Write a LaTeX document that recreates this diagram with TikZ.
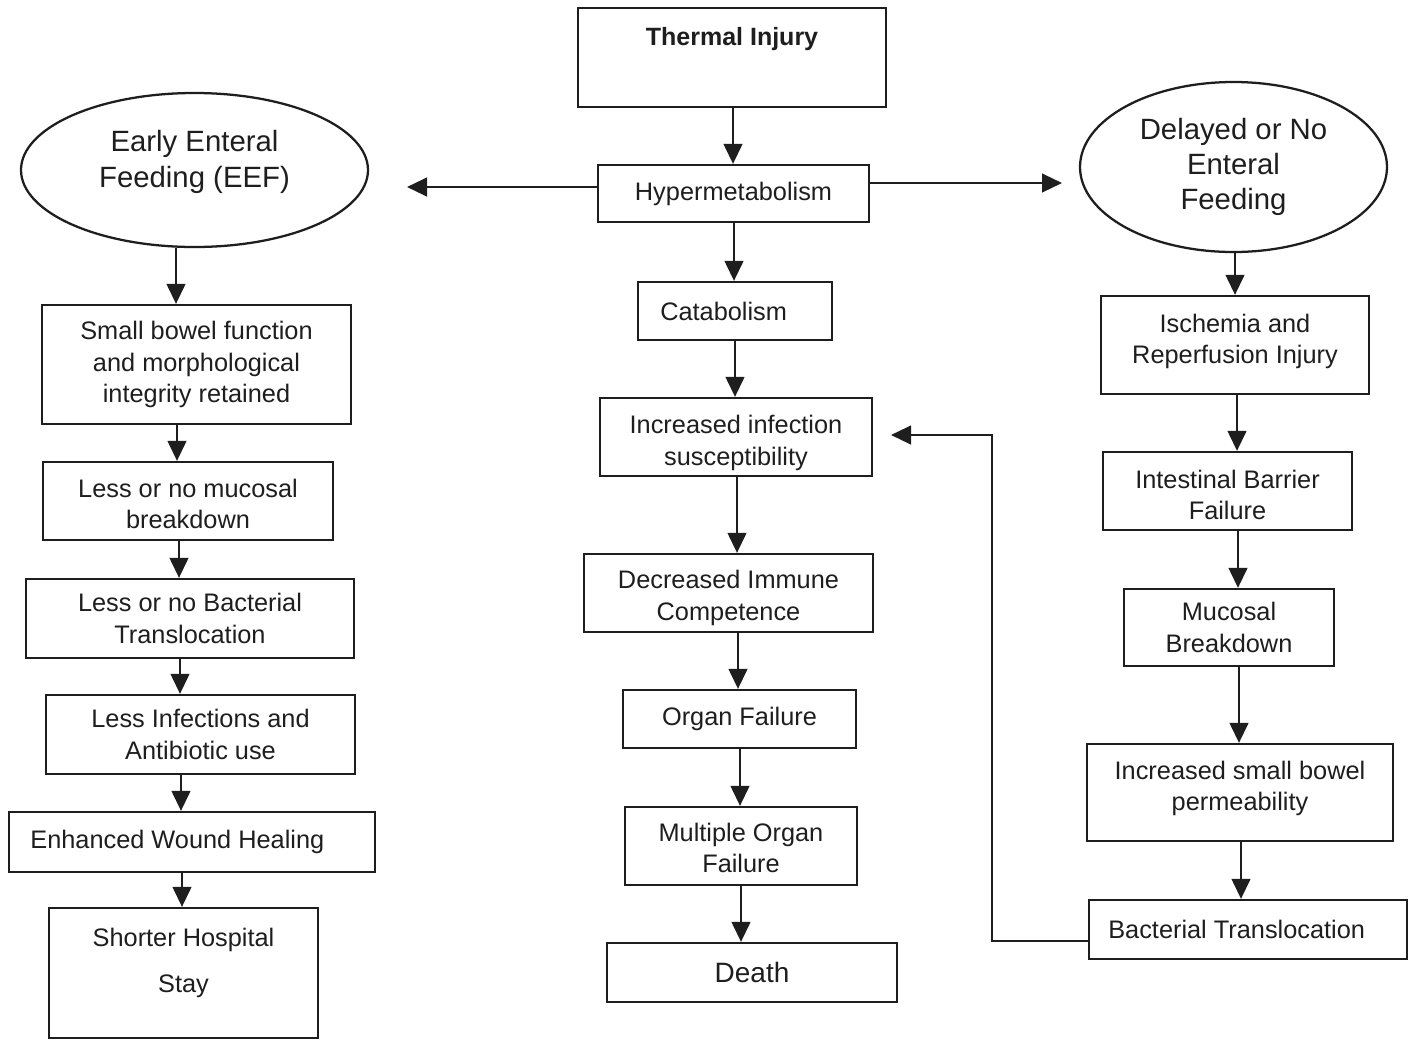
\documentclass[tikz,border=0pt]{standalone}
\usepackage{fontspec}
\setmainfont{Liberation Sans}
\usetikzlibrary{arrows.meta,shapes.geometric}
\definecolor{ink}{HTML}{1E1E1E}
\newcommand\vlink[3]{\coordinate (vx) at (#3,0); \draw[arr] (#1.south -| vx) -- (#2.north -| vx);}
\begin{document}
\begin{tikzpicture}[x=0.75pt,y=-0.75pt,
  fcbox/.style 2 args={draw=ink, text=ink, line width=1.7pt, rectangle, minimum width=#1*0.75pt, minimum height=#2*0.75pt, inner sep=2pt, align=center, font=\fontsize{19}{23.5}\selectfont},
  fcoval/.style 2 args={draw=ink, text=ink, line width=1.7pt, ellipse, minimum width=#1*0.75pt, minimum height=#2*0.75pt, inner sep=0pt, align=center, font=\fontsize{22}{27}\selectfont},
  arr/.style={draw=ink, line width=1.7pt, -{Triangle[length=15pt,width=14pt]}},
]
\fill[white] (0,0) rectangle (1409,1040);
\useasboundingbox (0,0) rectangle (1409,1040);

% centre column
\node[fcbox={308}{99}, font=\bfseries\fontsize{18.75}{23.5}\selectfont, text depth=32pt] (ti) at (732,57.5) {Thermal Injury};
\node[fcbox={271}{57}] (hyp) at (733.5,193.5) {Hypermetabolism};
\node[fcbox={194}{58}] (cat) at (735,311) {Catabolism\kern17pt};
\node[fcbox={272}{78}, text height=46pt] (iis) at (736,437) {Increased infection\\susceptibility};
\node[fcbox={289}{78}, text height=44.5pt] (dic) at (728.5,593) {Decreased Immune\\Competence};
\node[fcbox={233}{58}] (of) at (739.5,719) {Organ Failure};
\node[fcbox={232}{78}, text height=40pt] (mof) at (741,846) {Multiple Organ\\Failure};
\node[fcbox={290}{59}, font=\fontsize{21}{25}\selectfont] (death) at (752,972.5) {Death};

% left column
\node[fcoval={347}{154}, text depth=17pt] (eef) at (194.5,170) {Early Enteral\\Feeding (EEF)};
\node[fcbox={309}{119}] (sb) at (196.5,364.5) {Small bowel function\\and morphological\\integrity retained};
\node[fcbox={290}{78}, text height=41.5pt] (lnm) at (188,501) {Less or no mucosal\\breakdown};
\node[fcbox={328}{79}] (lnb) at (190,618.5) {Less or no Bacterial\\Translocation};
\node[fcbox={309}{79}] (lia) at (200.5,734.5) {Less Infections and\\Antibiotic use};
\node[fcbox={366}{60}] (ewh) at (192,842) {Enhanced Wound Healing\kern22pt};
\node[fcbox={269}{130}, text depth=19.5pt] (shs) at (183.5,973) {Shorter Hospital\\[11pt]Stay};

% right column
\node[fcoval={307}{170}, font=\fontsize{22}{26.25}\selectfont] (dnef) at (1233.5,167) {Delayed or No\\Enteral\\Feeding};
\node[fcbox={268}{98}, text depth=9.75pt] (isch) at (1235,345) {Ischemia and\\Reperfusion Injury};
\node[fcbox={249}{78}, text height=43pt] (ibf) at (1227.5,491) {Intestinal Barrier\\Failure};
\node[fcbox={210}{77}] (mb) at (1229,627.5) {Mucosal\\Breakdown};
\node[fcbox={306}{97}, text depth=9.75pt] (isbp) at (1240,792.5) {Increased small bowel\\permeability};
\node[fcbox={318}{59}] (bt) at (1248,929.5) {Bacterial Translocation\kern17pt};

% centre links
\vlink{ti}{hyp}{733}
\vlink{hyp}{cat}{734}
\vlink{cat}{iis}{735}
\vlink{iis}{dic}{737}
\vlink{dic}{of}{738}
\vlink{of}{mof}{740}
\vlink{mof}{death}{741}

% left links
\vlink{eef}{sb}{176}
\vlink{sb}{lnm}{177}
\vlink{lnm}{lnb}{179}
\vlink{lnb}{lia}{180}
\vlink{lia}{ewh}{181}
\vlink{ewh}{shs}{182}

% right links
\vlink{dnef}{isch}{1235}
\vlink{isch}{ibf}{1237}
\vlink{ibf}{mb}{1238}
\vlink{mb}{isbp}{1239}
\vlink{isbp}{bt}{1241}

% side arrows from hypermetabolism
\coordinate (lt) at (407,187);
\coordinate (rt) at (1062,183);
\draw[arr] (hyp.west |- lt) -- (lt);
\draw[arr] (hyp.east |- rt) -- (rt);

% feedback
\coordinate (fbtip) at (891,435);
\coordinate (fbx) at (992,941);
\draw[arr] (bt.west |- fbx) -- (fbx) |- (fbtip);
\end{tikzpicture}
\end{document}
